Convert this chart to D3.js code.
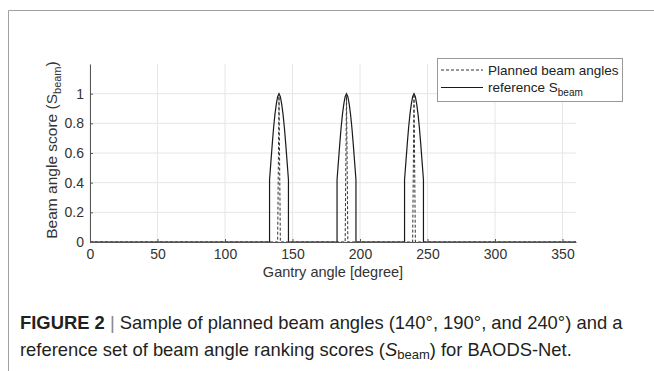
<!DOCTYPE html>
<html>
<head>
<meta charset="utf-8">
<script src="https://cdn.jsdelivr.net/npm/d3@7"></script>
<style>
  body { margin: 0; background: #fff; }
  svg { display: block; font-family: "Liberation Sans", Arial, sans-serif; }
</style>
</head>
<body>
<svg id="fig" width="654" height="371"></svg>
<script>
// tick labels
var xTicks = [0, 50, 100, 150, 200, 250, 300, 350];
var yTicks = [0, 0.2, 0.4, 0.6, 0.8, 1];

// planned beam angles (dashed): 0 everywhere, 1 at the planned angle
var plannedAngle = [0, 139, 140, 141, 189, 190, 191, 239, 240, 241, 360];
var plannedValue = [0, 0, 1, 0, 0, 1, 0, 0, 1, 0, 0];

// reference S_beam (solid)
var refAngle = [0,
  133, 133, 134, 135, 136, 137, 138, 139, 140, 141, 142, 143, 144, 145, 146, 147, 147,
  183, 183, 184, 185, 186, 187, 188, 189, 190, 191, 192, 193, 194, 195, 196, 197, 197,
  233, 233, 234, 235, 236, 237, 238, 239, 240, 241, 242, 243, 244, 245, 246, 247, 247,
  360];
var refValue = [0,
  0, 0.42, 0.54, 0.66, 0.77, 0.86, 0.93, 0.98, 1, 0.98, 0.93, 0.86, 0.77, 0.66, 0.54, 0.42, 0,
  0, 0.42, 0.54, 0.66, 0.77, 0.86, 0.93, 0.98, 1, 0.98, 0.93, 0.86, 0.77, 0.66, 0.54, 0.42, 0,
  0, 0.42, 0.54, 0.66, 0.77, 0.86, 0.93, 0.98, 1, 0.98, 0.93, 0.86, 0.77, 0.66, 0.54, 0.42, 0,
  0];

var svg = d3.select("#fig");
svg.append("rect").attr("width", 654).attr("height", 371).attr("fill", "#fff");

// figure frame (top + left rule)
svg.append("path").attr("d", "M8.5,371V10.5H654")
  .attr("fill", "none").attr("stroke", "#a0a0a0").attr("stroke-width", 1);

var x = d3.scaleLinear().domain([0, 360]).range([90, 576]);
var y = d3.scaleLinear().domain([0, 1.2]).range([242, 64]);

// grid
var grid = svg.append("g").attr("class", "grid");
grid.selectAll("line.v").data(xTicks).enter().append("line")
  .attr("x1", function(d){return x(d)}).attr("x2", function(d){return x(d)})
  .attr("y1", y(0)).attr("y2", y(1.2))
  .attr("stroke", "#e6e6e6").attr("stroke-width", 1);
grid.selectAll("line.h").data(yTicks).enter().append("line")
  .attr("x1", x(0)).attr("x2", x(360))
  .attr("y1", function(d){return y(d)}).attr("y2", function(d){return y(d)})
  .attr("stroke", "#e6e6e6").attr("stroke-width", 1);

// lines
var lineGen = d3.line().x(function(d){return x(d[0])}).y(function(d){return y(d[1])});
var refPts = refAngle.map(function(a, i){return [a, refValue[i]]});
var planPts = plannedAngle.map(function(a, i){return [a, plannedValue[i]]});

svg.append("path").datum(refPts).attr("d", lineGen)
  .attr("fill", "none").attr("stroke", "#1a1a1a").attr("stroke-width", 1.2);
svg.append("path").datum(planPts).attr("d", lineGen)
  .attr("fill", "none").attr("stroke", "#333").attr("stroke-width", 1)
  .attr("stroke-dasharray", "3,2");

// axes
var xAxis = d3.axisBottom(x).tickValues(xTicks).tickSizeInner(-3).tickSizeOuter(0).tickPadding(7);
var yAxis = d3.axisLeft(y).tickValues(yTicks).tickSizeInner(-3).tickSizeOuter(0).tickPadding(6)
  .tickFormat(function(d){return d3.format("~g")(d)});

var gx = svg.append("g").attr("transform", "translate(0," + y(0) + ")").call(xAxis);
var gy = svg.append("g").attr("transform", "translate(" + x(0) + ",0)").call(yAxis);
[gx, gy].forEach(function(g){
  g.select(".domain").attr("stroke", "#555");
  g.selectAll(".tick line").attr("stroke", "#555");
  g.selectAll(".tick text").attr("fill", "#333").style("font-size", "14px")
    .style("font-family", "'Liberation Sans', Arial, sans-serif");
});

// axis titles
svg.append("text").attr("x", 333).attr("y", 277).attr("text-anchor", "middle")
  .attr("fill", "#333").style("font-size", "14.5px").text("Gantry angle [degree]");

var yl = svg.append("text").attr("transform", "translate(57,150) rotate(-90)")
  .attr("text-anchor", "middle").attr("fill", "#333").style("font-size", "15.5px");
yl.append("tspan").text("Beam angle score (S");
yl.append("tspan").attr("dy", 4).style("font-size", "11px").text("beam");
yl.append("tspan").attr("dy", -4).text(")");

// legend
var lg = svg.append("g");
lg.append("rect").attr("x", 437.5).attr("y", 58.5).attr("width", 185).attr("height", 43)
  .attr("fill", "#fff").attr("stroke", "#999").attr("stroke-width", 1);
lg.append("line").attr("x1", 441).attr("x2", 483).attr("y1", 70).attr("y2", 70)
  .attr("stroke", "#333").attr("stroke-dasharray", "3,2");
lg.append("line").attr("x1", 441).attr("x2", 483).attr("y1", 87.5).attr("y2", 87.5)
  .attr("stroke", "#1a1a1a").attr("stroke-width", 1.2);
lg.append("text").attr("x", 488).attr("y", 74.5).attr("fill", "#222")
  .style("font-size", "13.5px").text("Planned beam angles");
var lt = lg.append("text").attr("x", 488).attr("y", 91.5).attr("fill", "#222").style("font-size", "13.5px");
lt.append("tspan").text("reference S");
lt.append("tspan").attr("dy", 4).style("font-size", "10px").text("beam");

// caption
var cap1 = svg.append("text").attr("x", 20).attr("y", 329).attr("fill", "#231f20").style("font-size", "18.4px");
cap1.append("tspan").style("font-weight", "bold").text("FIGURE 2");
cap1.append("tspan").attr("fill", "#888").text(" | ");
cap1.append("tspan").text("Sample of planned beam angles (140°, 190°, and 240°) and a");

var cap2 = svg.append("text").attr("x", 20).attr("y", 356).attr("fill", "#231f20").style("font-size", "18.4px");
cap2.append("tspan").text("reference set of beam angle ranking scores (");
cap2.append("tspan").style("font-style", "italic").text("S");
cap2.append("tspan").attr("dy", 3).style("font-size", "13px").text("beam");
cap2.append("tspan").attr("dy", -3).text(") for BAODS-Net.");
</script>
</body>
</html>
